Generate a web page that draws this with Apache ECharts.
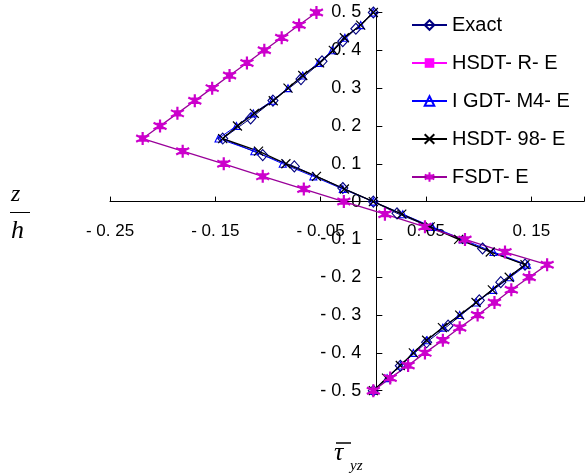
<!DOCTYPE html>
<html>
<head>
<meta charset="utf-8">
<script src="https://cdn.jsdelivr.net/npm/echarts@6/dist/echarts.min.js"></script>
<style>
  html, body { margin: 0; padding: 0; background: #fff; }
  #chart { width: 587px; height: 474px; }
</style>
</head>
<body>
<div id="chart"></div>
<script>
// Through-thickness positions z/h shared by the plate theories (top to bottom)
const zLevels = [0.5, 0.4667, 0.4333, 0.4, 0.3667, 0.3333, 0.3, 0.2667, 0.2333, 0.2, 0.1667,
  0.1333, 0.1, 0.0667, 0.0333, 0, -0.0333, -0.0667, -0.1, -0.1333, -0.1667,
  -0.2, -0.2333, -0.2667, -0.3, -0.3333, -0.3667, -0.4, -0.4333, -0.4667, -0.5];

// Exact (elasticity) solution: its own sampling points
const exactZ = [0.5, 0.457, 0.424, 0.371, 0.324, 0.267, 0.22, 0.1667, 0.123, 0.093, 0.036, 0,
  -0.031, -0.124, -0.1667, -0.213, -0.261, -0.328, -0.372, -0.434, -0.5];
const exactTau = [0, -0.0166, -0.029, -0.0487, -0.0687, -0.0953, -0.1165, -0.143, -0.105, -0.075, -0.029, 0,
  0.0225, 0.1037, 0.144, 0.121, 0.1006, 0.071, 0.0506, 0.0256, 0];

// Shear stress from the constitutive equations, one value per zLevels entry
const hsdtRTau = [];
const igdtM4Tau = [0, -0.012, -0.027, -0.039, -0.052, -0.067, -0.081, -0.096, -0.114, -0.130, -0.147,
  -0.113, -0.086, -0.057, -0.029, 0, 0.028, 0.056, 0.085, 0.114, 0.146,
  0.130, 0.114, 0.098, 0.082, 0.066, 0.051, 0.038, 0.026, 0.013, 0];
const hsdt98Tau = [0, -0.012, -0.0275, -0.038, -0.051, -0.067, -0.081, -0.095, -0.113, -0.129, -0.143,
  -0.109, -0.083, -0.054, -0.0275, 0, 0.027, 0.054, 0.081, 0.111, 0.144,
  0.129, 0.113, 0.0975, 0.082, 0.0656, 0.0506, 0.038, 0.0256, 0.0125, 0];
const fsdtTau = [-0.054, -0.0705, -0.087, -0.1035, -0.12, -0.1365, -0.153, -0.1695, -0.186, -0.2025, -0.219,
  -0.181, -0.142, -0.105, -0.066, -0.028, 0.011, 0.049, 0.087, 0.125, 0.165,
  0.148, 0.131, 0.115, 0.099, 0.082, 0.066, 0.049, 0.033, 0.016, 0];

const seriesNames = ['Exact', 'HSDT- R- E', 'I GDT- M4- E', 'HSDT- 98- E', 'FSDT- E'];

// Axis tick labels, as printed
const xTickLabels = ['- 0. 25', '- 0. 15', '- 0. 05', '0. 05', '0. 15'];
const yTickLabels = ['- 0. 5', '- 0. 4', '- 0. 3', '- 0. 2', '- 0. 1', '0', '0. 1', '0. 2', '0. 3', '0. 4', '0. 5'];

const X_MIN = -0.25, X_MAX = 0.2, X_STEP = 0.1;
const Y_MIN = -0.5, Y_MAX = 0.5, Y_STEP = 0.1;

// Plot box in pixels; the axes cross at the origin inside it
const GRID = { left: 110, right: -2.4, top: 12.5, bottom: 83.3 };
const W = 587, H = 474;
const plotW = W - GRID.left - GRID.right;
const plotH = H - GRID.top - GRID.bottom;
const yAxisShift = plotW * (0 - X_MIN) / (X_MAX - X_MIN);
const xAxisShift = plotH * (0 - Y_MIN) / (Y_MAX - Y_MIN);

function pairs(xs, zs) {
  return xs.map((v, i) => [v, zs[i]]);
}

const SANS = '"Liberation Sans", Arial, sans-serif';
const SERIF = '"Liberation Serif", "Times New Roman", serif';

const crossPath = 'path://M0,0L10,10M10,0L0,10';
const starPath = 'path://M5,0L5,10M0.7,2.5L9.3,7.5M9.3,2.5L0.7,7.5M3.4,3.4L6.6,3.4L6.6,6.6L3.4,6.6Z';

const chart = echarts.init(document.getElementById('chart'), null, { renderer: 'canvas' });

chart.setOption({
  backgroundColor: '#ffffff',
  animation: false,
  grid: Object.assign({ containLabel: false }, GRID),
  xAxis: {
    type: 'value',
    position: 'bottom',
    offset: -xAxisShift,
    min: X_MIN, max: X_MAX, interval: X_STEP,
    axisLine: { onZero: false, lineStyle: { color: '#000', width: 1 } },
    axisTick: { show: true, inside: true, length: 5, lineStyle: { color: '#000' } },
    splitLine: { show: false },
    axisLabel: {
      margin: 21,
      color: '#000',
      fontFamily: SANS,
      fontSize: 17,
      showMaxLabel: true, showMinLabel: true,
      formatter: v => {
        const i = Math.round((v - X_MIN) / X_STEP * 1000) / 1000;
        return Number.isInteger(i) && xTickLabels[i] !== undefined ? xTickLabels[i] : '';
      }
    }
  },
  yAxis: {
    type: 'value',
    position: 'left',
    offset: -yAxisShift,
    min: Y_MIN, max: Y_MAX, interval: Y_STEP,
    axisLine: { onZero: false, lineStyle: { color: '#000', width: 1 } },
    axisTick: { show: true, inside: true, length: 6, lineStyle: { color: '#000' } },
    splitLine: { show: false },
    axisLabel: {
      margin: 15,
      color: '#000',
      fontFamily: SANS,
      fontSize: 18,
      formatter: v => {
        const i = Math.round((v - Y_MIN) / Y_STEP);
        return yTickLabels[i] !== undefined ? yTickLabels[i] : '';
      }
    }
  },
  legend: {
    orient: 'vertical',
    left: 406, top: 10,
    itemWidth: 35, itemHeight: 12,
    itemGap: 18,
    textStyle: { fontFamily: SANS, fontSize: 20, color: '#000', lineHeight: 20 },
    data: seriesNames
  },
  series: [
    {
      name: seriesNames[0], type: 'line', clip: false,
      data: pairs(exactTau, exactZ),
      symbol: 'diamond', symbolSize: [10, 11],
      itemStyle: { color: 'rgba(255,255,255,0)', borderColor: '#000080', borderWidth: 1.1 },
      lineStyle: { color: '#000080', width: 1 }
    },
    {
      name: seriesNames[1], type: 'line', clip: false,
      data: pairs(hsdtRTau, zLevels),
      symbol: 'rect', symbolSize: 6,
      itemStyle: { color: '#ff00ff' },
      lineStyle: { color: '#ff00ff', width: 1 }
    },
    {
      name: seriesNames[2], type: 'line', clip: false,
      data: pairs(igdtM4Tau, zLevels),
      symbol: 'triangle', symbolSize: 7,
      itemStyle: { color: 'rgba(255,255,255,0)', borderColor: '#0000ff', borderWidth: 1.1 },
      lineStyle: { color: '#0000ff', width: 1 }
    },
    {
      name: seriesNames[3], type: 'line', clip: false,
      data: pairs(hsdt98Tau, zLevels),
      symbol: crossPath, symbolSize: 9,
      itemStyle: { color: '#000', borderColor: '#000', borderWidth: 1.2 },
      lineStyle: { color: '#000', width: 1.3 }
    },
    {
      name: seriesNames[4], type: 'line', clip: false,
      data: pairs(fsdtTau, zLevels),
      symbol: starPath, symbolSize: 13,
      itemStyle: { color: '#cc00cc', borderColor: '#cc00cc', borderWidth: 2.2 },
      lineStyle: { color: '#990099', width: 1.3 }
    }
  ],
  graphic: [
    // z / h axis title
    { type: 'text', left: 11, top: 183, style: { text: 'z', font: 'italic 24px ' + SERIF, fill: '#000' } },
    { type: 'line', shape: { x1: 10, y1: 212.5, x2: 30, y2: 212.5 }, style: { stroke: '#000', lineWidth: 1 } },
    { type: 'text', left: 11, top: 218, style: { text: 'h', font: 'italic 26px ' + SERIF, fill: '#000' } },
    // tau_yz axis title with overbar
    { type: 'line', shape: { x1: 336, y1: 443, x2: 351, y2: 443 }, style: { stroke: '#000', lineWidth: 1.5 } },
    { type: 'text', left: 334, top: 440, style: { text: 'τ', font: 'italic 26px ' + SERIF, fill: '#000' } },
    { type: 'text', left: 350, top: 459, style: { text: 'yz', font: 'italic 15px ' + SERIF, fill: '#000' } }
  ]
});
</script>
</body>
</html>
